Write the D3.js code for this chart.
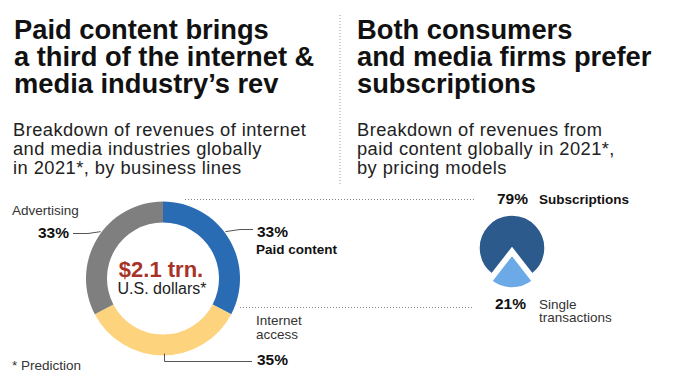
<!DOCTYPE html>
<html>
<head>
<meta charset="utf-8">
<script src="https://cdn.jsdelivr.net/npm/d3@7"></script>
<style>
html,body{margin:0;padding:0;background:#fff;}
svg{display:block;font-family:"Liberation Sans",Arial,Helvetica,sans-serif;}
</style>
</head>
<body>
<svg id="chart" width="680" height="376"></svg>
<script>
// ---- Data ----
const leftTitle = ["Paid content brings", "a third of the internet &", "media industry\u2019s rev"];
const leftSubtitle = ["Breakdown of revenues of internet", "and media industries globally", "in 2021*, by business lines"];
const rightTitle = ["Both consumers", "and media firms prefer", "subscriptions"];
const rightSubtitle = ["Breakdown of revenues from", "paid content globally in 2021*,", "by pricing models"];

const donutCategories = ["Paid content", "Internet access", "Advertising"];
const donutValues = [33, 35, 33];
const donutTotal = "$2.1 trn.";
const donutUnit = "U.S. dollars*";
const footnote = "* Prediction";

const pieCategories = ["Subscriptions", "Single transactions"];
const pieValues = [79, 21];

// ---- Drawing ----
const svg = d3.select("#chart");

function block(lines, x, y0, lh, size, weight, color, ls) {
  const t = svg.append("text").attr("x", x).attr("y", y0)
    .attr("font-size", size).attr("font-weight", weight).attr("fill", color);
  if (ls) t.attr("letter-spacing", ls);
  lines.forEach((l, i) => t.append("tspan").attr("x", x).attr("y", y0 + i * lh).text(l));
  return t;
}

block(leftTitle, 14, 39, 27, 27.3, "bold", "#111");
block(leftSubtitle, 13, 136, 19, 18.3, "normal", "#222", 0.45);
block(rightTitle, 357, 39, 27, 27.3, "bold", "#111");
block(rightSubtitle, 357, 136, 19, 18.3, "normal", "#222", 0.45);

// divider
svg.append("line").attr("x1", 340).attr("x2", 340).attr("y1", 15).attr("y2", 184)
  .attr("stroke", "#999").attr("stroke-width", 1).attr("stroke-dasharray", "1,2");

// dotted connectors between charts
svg.append("line").attr("x1", 185).attr("x2", 476).attr("y1", 199.5).attr("y2", 199.5)
  .attr("stroke", "#888").attr("stroke-width", 1).attr("stroke-dasharray", "1,2");
svg.append("line").attr("x1", 240).attr("x2", 473).attr("y1", 307.5).attr("y2", 307.5)
  .attr("stroke", "#888").attr("stroke-width", 1).attr("stroke-dasharray", "1,2");

// ---- Donut ----
const dcx = 163, dcy = 278.5, rOut = 77, rIn = 56;
const donutColor = d3.scaleOrdinal().domain(donutCategories).range(["#2a6cb3", "#fdd47d", "#7f7f7f"]);
const donutPie = d3.pie().sort(null).value(d => d.v);
const donutData = donutPie(donutCategories.map((c, i) => ({c, v: donutValues[i]})));
const donutArc = d3.arc().innerRadius(rIn).outerRadius(rOut);
const dg = svg.append("g").attr("transform", `translate(${dcx},${dcy})`);
dg.selectAll("path").data(donutData).join("path")
  .attr("d", donutArc).attr("fill", d => donutColor(d.data.c));

function edgePoint(a, r) { return [dcx + r * Math.sin(a), dcy - r * Math.cos(a)]; }
const mid = d => (d.startAngle + d.endAngle) / 2;

// leader lines
const lineStyle = sel => sel.attr("fill", "none").attr("stroke", "#555").attr("stroke-width", 1);
const pPaid = edgePoint(mid(donutData[0]) - 0.1, rOut + 1);
svg.append("path").attr("d", d3.line()([pPaid, [240, 229.5], [253, 229.5]])).call(lineStyle);
const pAdv = edgePoint(mid(donutData[2]) + 0.1, rOut + 1);
svg.append("path").attr("d", d3.line()([pAdv, [88, 233.5], [73, 233.5]])).call(lineStyle);
const pNet = edgePoint(mid(donutData[1]) - 0.02, rOut - 2);
svg.append("path").attr("d", d3.line()([pNet, [pNet[0], 361.5], [252, 361.5]])).call(lineStyle);

// donut labels
svg.append("text").attr("x", 161).attr("y", 277).attr("text-anchor", "middle")
  .attr("font-size", 22).attr("font-weight", "bold").attr("fill", "#a83227").text(donutTotal);
svg.append("text").attr("x", 162).attr("y", 294).attr("text-anchor", "middle")
  .attr("font-size", 16).attr("fill", "#222").text(donutUnit);

const lab = (x, y, txt, size, weight, anchor) => svg.append("text").attr("x", x).attr("y", y)
  .attr("font-size", size).attr("font-weight", weight).attr("fill", weight === "bold" ? "#111" : "#333")
  .attr("text-anchor", anchor || "start").text(txt);

lab(12, 215, donutCategories[2], 13.5, "normal");
lab(69, 238, donutValues[2] + "%", 15.5, "bold", "end");
lab(257, 237, donutValues[0] + "%", 15.5, "bold");
lab(256, 254, donutCategories[0], 13.5, "bold");
block(donutCategories[1].split(" "), 256, 325, 14, 13.5, "normal", "#333");
lab(257, 365, donutValues[1] + "%", 15.5, "bold");
lab(12, 370, footnote, 13.5, "normal");

// ---- Pie ----
const pcx = 512, pcy = 248, pr = 33;
const pieColor = d3.scaleOrdinal().domain(pieCategories).range(["#2d5a8c", "#6ba9e7"]);
const start = Math.PI + Math.PI * pieValues[1] / 100;
const pieGen = d3.pie().sort(null).value(d => d.v).startAngle(start).endAngle(start + 2 * Math.PI);
const pieData = pieGen(pieCategories.map((c, i) => ({c, v: pieValues[i]})));
const pieArc = d3.arc().innerRadius(0).outerRadius(pr);
const pg = svg.append("g").attr("transform", `translate(${pcx},${pcy})`);
pg.selectAll("path").data(pieData).join("path")
  .attr("d", pieArc)
  .attr("fill", d => pieColor(d.data.c))
  .attr("stroke", "#fff").attr("stroke-width", 1.5)
  .attr("transform", (d, i) => {
    if (i === 0) return null;
    const a = mid(d), off = 7;
    return `translate(${off * Math.sin(a)},${-off * Math.cos(a)})`;
  });

lab(528, 204, pieValues[0] + "%", 15.5, "bold", "end");
lab(539, 204, pieCategories[0], 13.5, "bold");
lab(526, 309, pieValues[1] + "%", 15.5, "bold", "end");
block(pieCategories[1].split(" "), 539, 309, 13, 13.5, "normal", "#333");
</script>
</body>
</html>
